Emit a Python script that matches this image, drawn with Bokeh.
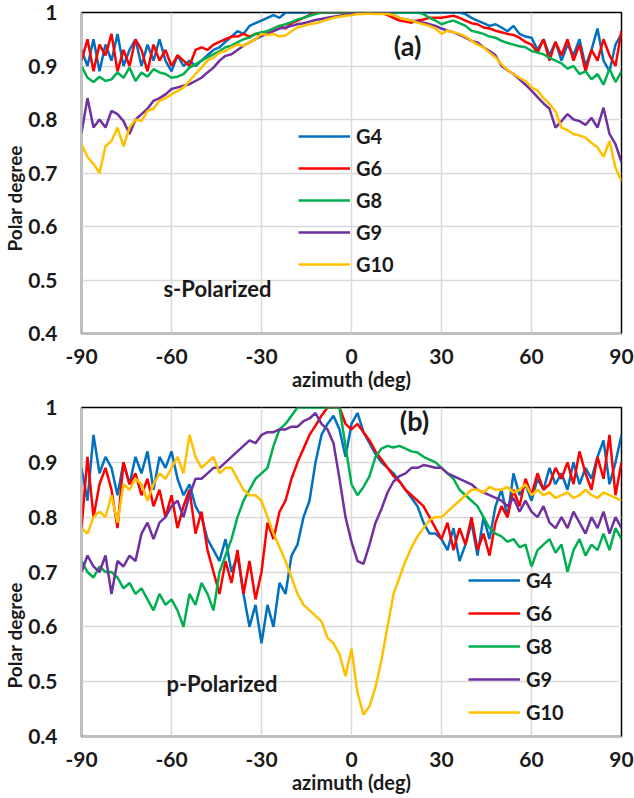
from bokeh.plotting import figure
from bokeh.models import FixedTicker, CustomJSTickFormatter, Legend, LegendItem, Label, Range1d, Title
from bokeh.layouts import column
from bokeh.embed import file_html
from bokeh.resources import INLINE

azimuth = list(range(-90, 91, 2))
x_ticks = [-90, -60, -30, 0, 30, 60, 90]
y_ticks = [0.4, 0.5, 0.6, 0.7, 0.8, 0.9, 1.0]
names = ["G4", "G6", "G8", "G9", "G10"]

# ---- panel (a): s-Polarized ----
s_G4 = [0.93, 0.90, 0.95, 0.89, 0.94, 0.91, 0.96, 0.90, 0.93, 0.95,
        0.90, 0.94, 0.91, 0.95, 0.91, 0.89, 0.92, 0.90, 0.91, 0.90,
        0.91, 0.92, 0.93, 0.935, 0.945, 0.955, 0.965, 0.96, 0.975, 0.98,
        0.985, 0.99, 0.995, 0.99, 1.0, 1.0, 1.0, 1.0, 1.0, 1.0,
        1.0, 1.0, 1.0, 1.0, 1.0, 1.0, 1.0, 1.0, 1.0, 1.0,
        1.0, 1.0, 1.0, 1.0, 1.0, 1.0, 1.0, 1.0, 1.0, 1.0,
        1.0, 1.0, 1.0, 1.0, 0.997, 0.99, 0.985, 0.98, 0.975, 0.978,
        0.972, 0.965, 0.975, 0.96, 0.955, 0.953, 0.93, 0.95, 0.92, 0.945,
        0.91, 0.94, 0.92, 0.95, 0.90, 0.93, 0.97, 0.91, 0.89, 0.94,
        0.96]
s_G6 = [0.91, 0.95, 0.89, 0.94, 0.92, 0.96, 0.89, 0.93, 0.90, 0.95,
        0.93, 0.89, 0.94, 0.91, 0.93, 0.90, 0.92, 0.91, 0.90, 0.93,
        0.935, 0.93, 0.94, 0.945, 0.95, 0.955, 0.955, 0.96, 0.955, 0.96,
        0.96, 0.965, 0.97, 0.975, 0.97, 0.98, 0.985, 0.99, 0.995, 1.0,
        1.0, 1.0, 1.0, 1.0, 1.0, 1.0, 1.0, 1.0, 1.0, 1.0,
        1.0, 0.995, 0.99, 0.985, 0.983, 0.981, 0.985, 0.987, 0.99, 0.99,
        0.99, 0.992, 0.994, 0.99, 0.985, 0.98, 0.978, 0.972, 0.97, 0.966,
        0.963, 0.96, 0.958, 0.953, 0.945, 0.94, 0.925, 0.95, 0.91, 0.945,
        0.92, 0.95, 0.91, 0.94, 0.89, 0.93, 0.91, 0.95, 0.92, 0.90,
        0.966]
s_G8 = [0.90, 0.878, 0.87, 0.88, 0.872, 0.875, 0.888, 0.878, 0.897, 0.872,
        0.888, 0.88, 0.894, 0.888, 0.885, 0.878, 0.88, 0.885, 0.897, 0.903,
        0.91, 0.916, 0.922, 0.928, 0.935, 0.938, 0.944, 0.95, 0.953, 0.96,
        0.963, 0.965, 0.97, 0.975, 0.978, 0.982, 0.987, 0.99, 0.994, 0.997,
        1.0, 1.0, 1.0, 1.0, 1.0, 1.0, 1.0, 1.0, 1.0, 1.0,
        1.0, 1.0, 1.0, 1.0, 1.0, 1.0, 1.0, 0.997, 0.99, 0.985,
        0.978, 0.982, 0.985, 0.98, 0.975, 0.966, 0.963, 0.96, 0.955, 0.953,
        0.947, 0.943, 0.94, 0.937, 0.935, 0.928, 0.925, 0.922, 0.915, 0.91,
        0.905, 0.895, 0.90, 0.885, 0.89, 0.875, 0.885, 0.865, 0.895, 0.87,
        0.89]
s_G9 = [0.775, 0.84, 0.785, 0.80, 0.785, 0.816, 0.81, 0.797, 0.773, 0.80,
        0.81, 0.82, 0.835, 0.84, 0.847, 0.857, 0.86, 0.863, 0.866, 0.872,
        0.878, 0.888, 0.897, 0.91, 0.919, 0.922, 0.93, 0.938, 0.944, 0.95,
        0.956, 0.96, 0.965, 0.97, 0.972, 0.975, 0.978, 0.98, 0.983, 0.986,
        0.988, 0.99, 0.992, 0.994, 0.996, 0.997, 0.998, 1.0, 1.0, 1.0,
        1.0, 1.0, 0.995, 0.99, 0.987, 0.985, 0.983, 0.981, 0.978, 0.975,
        0.97, 0.966, 0.963, 0.958, 0.953, 0.947, 0.944, 0.935, 0.928, 0.92,
        0.90, 0.892, 0.885, 0.875, 0.865, 0.854, 0.842, 0.83, 0.82, 0.785,
        0.797, 0.81, 0.80, 0.797, 0.79, 0.803, 0.785, 0.822, 0.773, 0.754,
        0.72]
s_G10 = [0.754, 0.73, 0.717, 0.70, 0.75, 0.76, 0.785, 0.75, 0.785, 0.80,
         0.797, 0.816, 0.82, 0.835, 0.84, 0.847, 0.853, 0.86, 0.872, 0.885,
         0.897, 0.91, 0.916, 0.925, 0.928, 0.935, 0.94, 0.938, 0.944, 0.95,
         0.96, 0.958, 0.96, 0.955, 0.957, 0.965, 0.972, 0.975, 0.978, 0.98,
         0.983, 0.987, 0.99, 0.992, 0.994, 0.995, 0.997, 0.997, 0.998, 0.997,
         0.997, 0.997, 0.995, 0.99, 0.987, 0.985, 0.981, 0.978, 0.975, 0.97,
         0.96, 0.966, 0.963, 0.96, 0.955, 0.947, 0.94, 0.935, 0.925, 0.916,
         0.903, 0.893, 0.885, 0.878, 0.872, 0.86, 0.854, 0.84, 0.829, 0.815,
         0.785, 0.78, 0.773, 0.77, 0.766, 0.756, 0.748, 0.73, 0.76, 0.71,
         0.685]

# ---- panel (b): p-Polarized ----
p_G4 = [0.89, 0.83, 0.95, 0.88, 0.91, 0.89, 0.84, 0.90, 0.86, 0.91,
        0.88, 0.92, 0.85, 0.91, 0.89, 0.92, 0.87, 0.84, 0.86, 0.82,
        0.80, 0.76, 0.74, 0.72, 0.76, 0.70, 0.73, 0.66, 0.60, 0.64,
        0.57, 0.64, 0.60, 0.68, 0.66, 0.73, 0.75, 0.80, 0.83, 0.90,
        0.95, 0.97, 0.985, 0.96, 0.91, 0.97, 0.99, 0.955, 0.935, 0.915,
        0.90, 0.89, 0.88, 0.865, 0.85, 0.835, 0.82, 0.79, 0.77, 0.77,
        0.76, 0.74, 0.78, 0.72, 0.75, 0.79, 0.73, 0.80, 0.76, 0.82,
        0.85, 0.80, 0.88, 0.84, 0.86, 0.83, 0.87, 0.85, 0.89, 0.86,
        0.88, 0.85, 0.90, 0.86, 0.89, 0.87, 0.91, 0.94, 0.86, 0.90,
        0.95]
p_G6 = [0.78, 0.91, 0.80, 0.86, 0.89, 0.85, 0.78, 0.90, 0.86, 0.88,
        0.84, 0.87, 0.82, 0.85, 0.80, 0.84, 0.78, 0.82, 0.85, 0.77,
        0.81, 0.74, 0.70, 0.66, 0.72, 0.68, 0.74, 0.66, 0.72, 0.65,
        0.70, 0.79, 0.76, 0.81, 0.83, 0.87, 0.90, 0.925, 0.95, 0.967,
        0.985, 1.0, 1.0, 1.0, 0.97, 0.96, 0.97, 0.955, 0.94, 0.92,
        0.905, 0.89, 0.875, 0.865, 0.85, 0.84, 0.83, 0.82, 0.80, 0.78,
        0.76, 0.79, 0.74, 0.78, 0.75, 0.80, 0.74, 0.77, 0.73, 0.79,
        0.82, 0.80, 0.85, 0.82, 0.87, 0.84, 0.88, 0.85, 0.86, 0.89,
        0.87, 0.90, 0.86, 0.92, 0.88, 0.85, 0.91, 0.87, 0.95, 0.84,
        0.90]
p_G8 = [0.72, 0.70, 0.69, 0.71, 0.70, 0.70, 0.69, 0.67, 0.68, 0.66,
        0.67, 0.65, 0.63, 0.66, 0.64, 0.65, 0.63, 0.60, 0.66, 0.64,
        0.68, 0.66, 0.63, 0.70, 0.73, 0.76, 0.80, 0.83, 0.85, 0.87,
        0.88, 0.89, 0.93, 0.96, 0.97, 0.985, 1.0, 1.0, 1.0, 1.0,
        1.0, 1.0, 1.0, 1.0, 0.93, 0.86, 0.84, 0.855, 0.875, 0.91,
        0.925, 0.93, 0.927, 0.93, 0.925, 0.92, 0.918, 0.91, 0.905, 0.90,
        0.89, 0.88, 0.87, 0.85, 0.84, 0.83, 0.82, 0.80, 0.78, 0.77,
        0.765, 0.755, 0.76, 0.745, 0.75, 0.71, 0.74, 0.75, 0.76, 0.735,
        0.75, 0.70, 0.74, 0.76, 0.73, 0.75, 0.74, 0.77, 0.74, 0.78,
        0.76]
p_G9 = [0.70, 0.73, 0.71, 0.70, 0.73, 0.66, 0.72, 0.71, 0.73, 0.72,
        0.77, 0.79, 0.76, 0.79, 0.80, 0.82, 0.83, 0.80, 0.84, 0.87,
        0.87, 0.88, 0.89, 0.89, 0.90, 0.91, 0.92, 0.93, 0.94, 0.935,
        0.95, 0.955, 0.955, 0.96, 0.96, 0.965, 0.965, 0.975, 0.98, 0.99,
        0.97, 0.96, 0.935, 0.87, 0.80, 0.755, 0.72, 0.715, 0.75, 0.79,
        0.815, 0.845, 0.865, 0.875, 0.88, 0.89, 0.89, 0.895, 0.893, 0.89,
        0.89, 0.88, 0.875, 0.87, 0.865, 0.86, 0.85, 0.845, 0.84, 0.835,
        0.83, 0.82, 0.835, 0.81, 0.83, 0.81, 0.80, 0.82, 0.79, 0.78,
        0.80, 0.78, 0.81, 0.79, 0.77, 0.80, 0.78, 0.81, 0.77, 0.80,
        0.78]
p_G10 = [0.78, 0.77, 0.80, 0.81, 0.80, 0.84, 0.79, 0.86, 0.85, 0.87,
         0.86, 0.83, 0.86, 0.88, 0.87, 0.89, 0.91, 0.88, 0.95, 0.91,
         0.89, 0.90, 0.91, 0.88, 0.89, 0.89, 0.87, 0.85, 0.84, 0.84,
         0.83, 0.80, 0.77, 0.745, 0.72, 0.69, 0.66, 0.64, 0.63, 0.62,
         0.61, 0.58, 0.57, 0.55, 0.51, 0.56, 0.48, 0.44, 0.455, 0.49,
         0.54, 0.60, 0.66, 0.69, 0.72, 0.745, 0.765, 0.78, 0.795, 0.80,
         0.80, 0.81, 0.82, 0.83, 0.84, 0.85, 0.85, 0.845, 0.855, 0.85,
         0.85, 0.855, 0.845, 0.85, 0.86, 0.84, 0.85, 0.84, 0.845, 0.835,
         0.84, 0.845, 0.835, 0.84, 0.85, 0.84, 0.835, 0.845, 0.84, 0.835,
         0.83]

FONT = "Lato"
TXT = "#1a1a1a"
COLORS = ["#0070C0", "#FF0000", "#00B050", "#7030A0", "#FFC000"]


def make_panel(series, frame_h, tag, tag_xy, pol_text, pol_xy, ylab_offset, leg_loc, leg_spacing):
    p = figure(frame_width=540, frame_height=frame_h,
               x_range=Range1d(-90, 90), y_range=Range1d(0.4, 1.0),
               output_backend="svg", toolbar_location=None,
               min_border_left=81, min_border_right=13,
               min_border_top=12, min_border_bottom=62)
    p.background_fill_color = "white"
    p.border_fill_color = "white"
    p.outline_line_color = "black"
    p.outline_line_width = 1.5

    p.xaxis.ticker = FixedTicker(ticks=x_ticks)
    p.yaxis.ticker = FixedTicker(ticks=y_ticks)
    p.xaxis.formatter = CustomJSTickFormatter(code="return tick.toFixed(0);")
    p.yaxis.formatter = CustomJSTickFormatter(code="return String(Math.round(tick*10)/10);")

    p.grid.grid_line_color = "#D9D9D9"
    p.grid.grid_line_width = 1.5
    for ax in (p.xaxis, p.yaxis):
        ax.major_tick_line_color = None
        ax.minor_tick_line_color = None
        ax.axis_line_color = "#BFBFBF"
        ax.axis_line_width = 1.5
        ax.major_label_text_font = FONT
        ax.major_label_text_font_size = "21px"
        ax.major_label_text_font_style = "bold"
        ax.major_label_text_color = TXT
    p.xaxis.major_label_standoff = 9
    p.yaxis.major_label_standoff = 18
    p.xaxis.axis_label = "azimuth (deg)"
    p.xaxis.axis_label_text_font = FONT
    p.xaxis.axis_label_text_font_size = "20px"
    p.xaxis.axis_label_text_font_style = "bold"
    p.xaxis.axis_label_text_color = TXT
    p.xaxis.axis_label_standoff = 0

    rends = []
    for ys, c in zip(series, COLORS):
        rends.append(p.line(azimuth, ys, line_color=c, line_width=2.5))

    legend = Legend(items=[LegendItem(label=n, renderers=[r]) for n, r in zip(names, rends)],
                    location=leg_loc, orientation="vertical",
                    glyph_width=52, glyph_height=20, label_height=20,
                    spacing=leg_spacing, padding=0, margin=0, label_standoff=6,
                    border_line_color=None, background_fill_alpha=0,
                    label_text_font=FONT, label_text_font_size="20px",
                    label_text_font_style="bold", label_text_color=TXT)
    p.add_layout(legend)

    p.add_layout(Label(x=tag_xy[0], y=tag_xy[1], text=tag, text_align="center",
                       text_baseline="middle", text_font=FONT, text_font_size="27px",
                       text_font_style="bold", text_color=TXT))
    p.add_layout(Label(x=pol_xy[0], y=pol_xy[1], text=pol_text, text_align="left",
                       text_baseline="middle", text_font=FONT, text_font_size="22px",
                       text_font_style="bold", text_color=TXT))
    p.add_layout(Title(text="Polar degree", align="left", offset=ylab_offset,
                       text_font=FONT, text_font_size="19px", text_font_style="bold",
                       text_color=TXT, standoff=0), "left")
    return p


p1 = make_panel([s_G4, s_G6, s_G8, s_G9, s_G10], 321, "(a)", (18.7, 0.938),
                "s-Polarized", (-62.7, 0.485), 82, (217, 57), 8)
p2 = make_panel([p_G4, p_G6, p_G8, p_G9, p_G10], 329, "(b)", (21, 0.976),
                "p-Polarized", (-61.7, 0.496), 48, (387, 12), 9)

layout = column(p1, p2, spacing=0)
open("out.html", "w").write(file_html(layout, INLINE))
